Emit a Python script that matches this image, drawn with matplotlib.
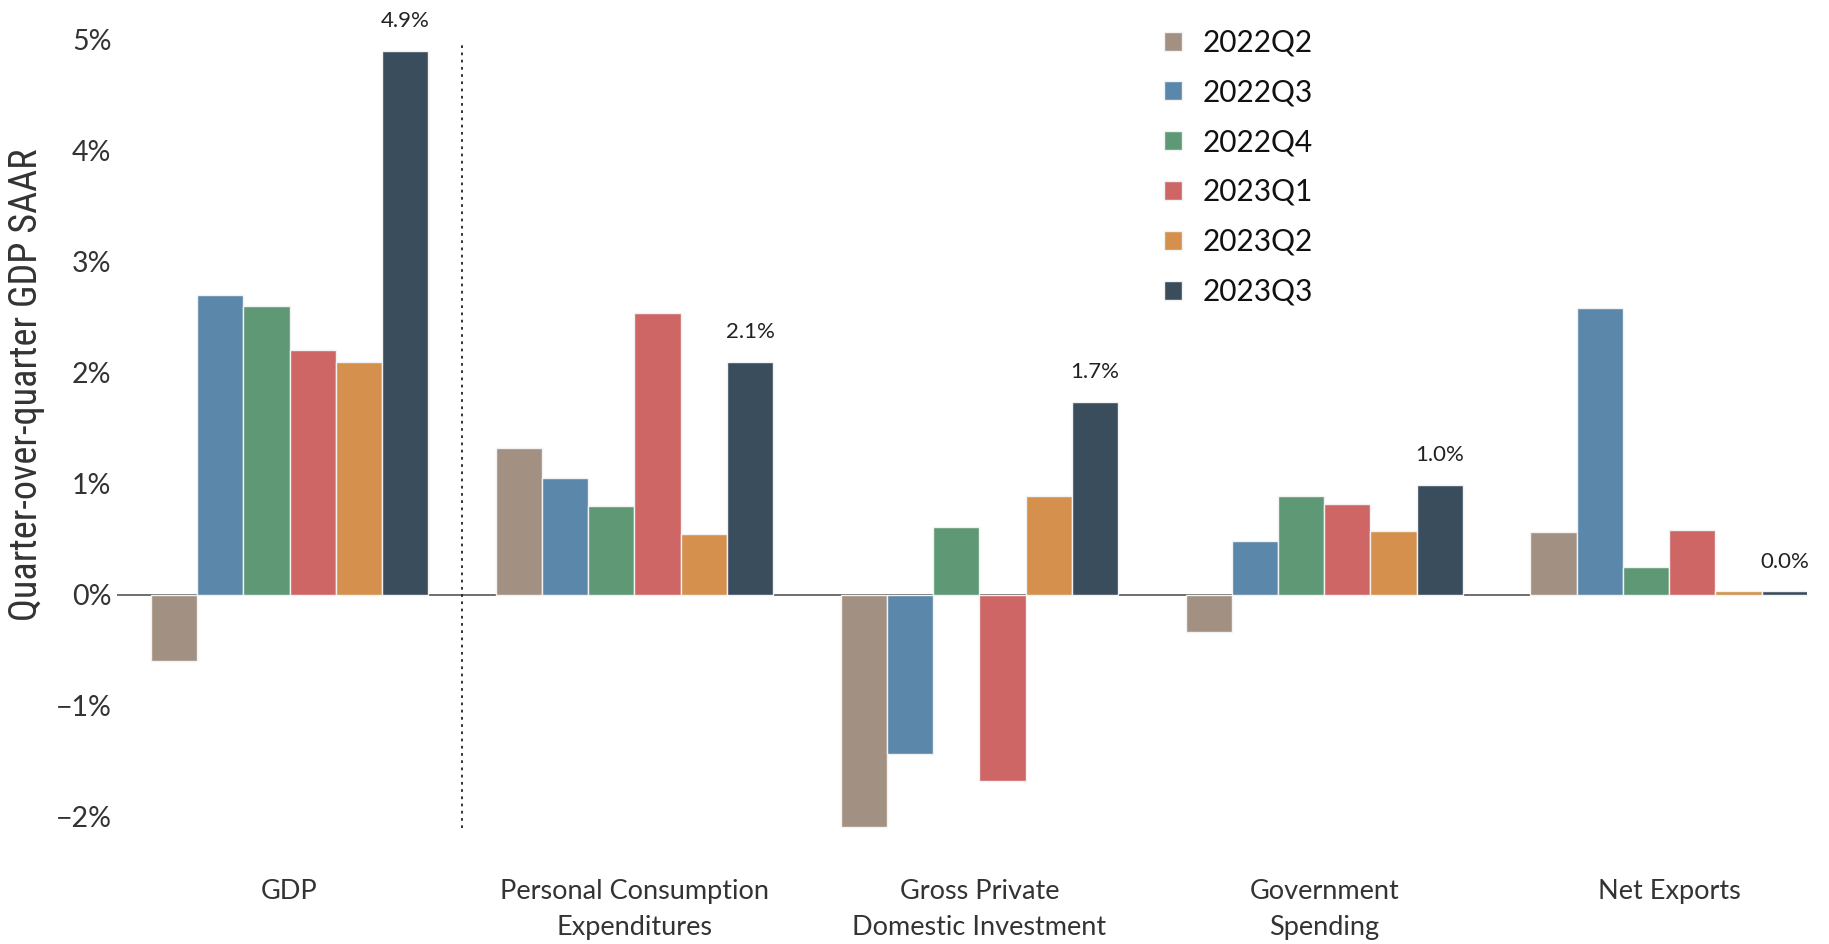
import numpy as np
import matplotlib.pyplot as plt
from matplotlib.ticker import FuncFormatter

# data
categories = ["GDP", "Personal Consumption\nExpenditures", "Gross Private\nDomestic Investment",
              "Government\nSpending", "Net Exports"]
quarters = ["2022Q2", "2022Q3", "2022Q4", "2023Q1", "2023Q2", "2023Q3"]
q2022_2 = [-0.6, 1.32, -2.09, -0.34, 0.56]
q2022_3 = [2.7, 1.05, -1.44, 0.48, 2.58]
q2022_4 = [2.6, 0.8, 0.61, 0.89, 0.25]
q2023_1 = [2.2, 2.54, -1.68, 0.82, 0.58]
q2023_2 = [2.1, 0.55, 0.89, 0.57, 0.03]
q2023_3 = [4.9, 2.1, 1.74, 0.99, 0.03]
series = [q2022_2, q2022_3, q2022_4, q2023_1, q2023_2, q2023_3]
colors = ["#a29182", "#5b87ab", "#5f9874", "#cf6666", "#d4904c", "#3a4d5c"]

plt.rcParams['font.family'] = ['Lato', 'DejaVu Sans']

fig = plt.figure(figsize=(18.29, 9.44), dpi=100)
ax = fig.add_axes([0.064, 0.0997, 0.924, 0.870])

x = np.arange(len(categories))
w = 0.134
for i, (vals, c, q) in enumerate(zip(series, colors, quarters)):
    ax.bar(x + (i - 2.5) * w, vals, width=w, color=c, edgecolor="#f2f2f2",
           linewidth=1.0, label=q, zorder=2)

# labels on the latest quarter
for xi, v in zip(x, q2023_3):
    ax.annotate(f"{v:.1f}%", (xi + 2.5 * w, max(v, 0)), xytext=(0, 14),
                textcoords="offset points", ha="center", va="bottom",
                fontsize=16, color="#222222")

ax.axhline(0, color="#555555", linewidth=1.2, zorder=1)
ax.vlines(0.5, -2.1, 4.98, color="#222222", linestyle=(0, (1.5, 2.5)), linewidth=1.3)

ax.set_xlim(-0.5, 4.4)
ax.set_ylim(-2.3, 5.1)
ax.set_yticks(range(-2, 6))
ax.yaxis.set_major_formatter(FuncFormatter(lambda v, p: f"{v:.0f}%".replace("-", "\u2212")))
ax.set_xticks(x)
ax.set_xticklabels(categories, fontsize=19.5, color="#333333", linespacing=1.55)
ax.tick_params(axis="x", length=0, pad=21)
ax.tick_params(axis="y", length=0, pad=4, labelsize=20.5, labelcolor="#333333")
for s in ax.spines.values():
    s.set_visible(False)

ax.set_ylabel("Quarter-over-quarter GDP SAAR", fontsize=27.5, color="#333333",
              family=["Roboto Condensed", "Open Sans Condensed", "Liberation Sans Narrow", "Lato"])
ax.yaxis.set_label_coords(-0.0425, 0.566)

leg = ax.legend(loc="upper left", bbox_to_anchor=(0.6195, 1.0), frameon=False,
                fontsize=21.5, handlelength=0.6, handleheight=0.6, labelspacing=0.73,
                handletextpad=0.7, borderpad=0, borderaxespad=0)
for t in leg.get_texts():
    t.set_color("#111111")

fig.savefig("out.png", dpi=100)
